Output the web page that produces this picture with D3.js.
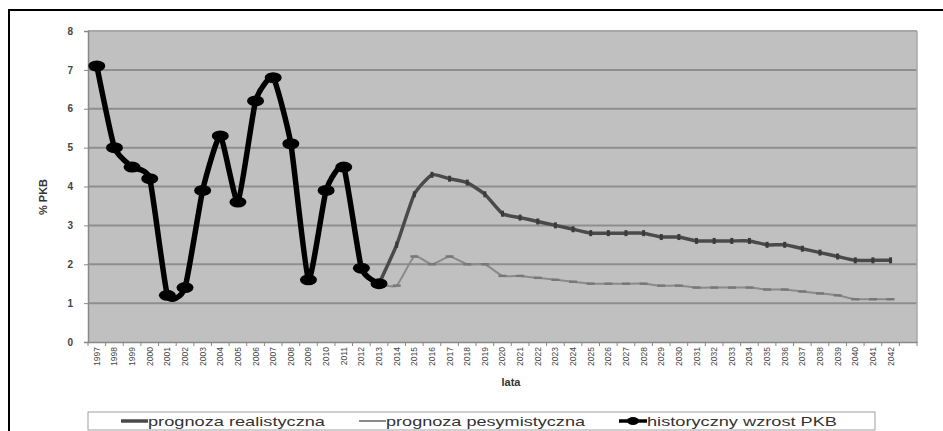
<!DOCTYPE html>
<html>
<head>
<meta charset="utf-8">
<script src="https://cdn.jsdelivr.net/npm/d3@7"></script>
<style>
  html, body { margin: 0; padding: 0; background: #fff; }
  svg { display: block; font-family: "Liberation Sans", Arial, sans-serif; }
</style>
</head>
<body>
<svg id="chart" width="943" height="431"></svg>
<script>
// Category labels along the x axis
const years = ["1997","1998","1999","2000","2001","2002","2003","2004","2005","2006",
  "2007","2008","2009","2010","2011","2012","2013","2014","2015","2016","2017","2018",
  "2019","2020","2021","2022","2023","2024","2025","2026","2027","2028","2029","2030",
  "2031","2032","2033","2034","2035","2036","2037","2038","2039","2040","2041","2042"];

// Historical GDP growth, 1997–2013
const historicalYears = ["1997","1998","1999","2000","2001","2002","2003","2004","2005",
  "2006","2007","2008","2009","2010","2011","2012","2013"];
const historical = [7.1, 5.0, 4.5, 4.2, 1.2, 1.4, 3.9, 5.3, 3.6, 6.2, 6.8, 5.1, 1.6, 3.9, 4.5, 1.9, 1.5];

// Forecasts, 2013–2042
const forecastYears = ["2013","2014","2015","2016","2017","2018","2019","2020","2021",
  "2022","2023","2024","2025","2026","2027","2028","2029","2030","2031","2032","2033",
  "2034","2035","2036","2037","2038","2039","2040","2041","2042"];
const realistic = [1.5, 2.5, 3.8, 4.3, 4.2, 4.1, 3.8, 3.3, 3.2, 3.1, 3.0, 2.9, 2.8, 2.8, 2.8,
  2.8, 2.7, 2.7, 2.6, 2.6, 2.6, 2.6, 2.5, 2.5, 2.4, 2.3, 2.2, 2.1, 2.1, 2.1];
const pessimistic = [1.5, 1.45, 2.2, 2.0, 2.2, 2.0, 2.0, 1.7, 1.7, 1.65, 1.6, 1.55, 1.5, 1.5, 1.5,
  1.5, 1.45, 1.45, 1.4, 1.4, 1.4, 1.4, 1.35, 1.35, 1.3, 1.25, 1.2, 1.1, 1.1, 1.1];

const yTicks = [0, 1, 2, 3, 4, 5, 6, 7, 8];
const seriesNames = ["prognoza realistyczna", "prognoza pesymistyczna", "historyczny wzrost PKB"];
const yTitle = "% PKB";
const xTitle = "lata";

const svg = d3.select("#chart");

// Outer frame
svg.append("path")
  .attr("d", "M9,431 V10 H943")
  .attr("fill", "none").attr("stroke", "#000").attr("stroke-width", 2);

const plot = { left: 88, right: 917, top: 31, bottom: 342 };

// One spare empty slot after the last year
const slots = years.concat([""]);
const x = d3.scaleBand().domain(slots).range([plot.left, plot.right]).padding(0);
const cx = d => x(d) + x.bandwidth() / 2;
const y = d3.scaleLinear().domain([0, 8]).range([plot.bottom, plot.top]);

// Plot background
svg.append("rect")
  .attr("x", plot.left).attr("y", plot.top)
  .attr("width", plot.right - plot.left).attr("height", plot.bottom - plot.top)
  .attr("fill", "#c0c0c0");

// Horizontal gridlines
svg.append("g").selectAll("line")
  .data(yTicks.filter(v => v > 0))
  .join("line")
  .attr("x1", plot.left).attr("x2", plot.right)
  .attr("y1", d => y(d)).attr("y2", d => y(d))
  .attr("stroke", d => d === 8 ? "#a8a8a8" : "#8e8e8e")
  .attr("stroke-width", 2);

// Right edge of plot area
svg.append("line")
  .attr("x1", plot.right).attr("x2", plot.right)
  .attr("y1", plot.top).attr("y2", plot.bottom)
  .attr("stroke", "#a8a8a8").attr("stroke-width", 1.5);

// Y axis
const yAxis = svg.append("g")
  .attr("transform", `translate(${plot.left},0)`)
  .call(d3.axisLeft(y).tickValues(yTicks).tickSize(4).tickPadding(11).tickFormat(d3.format("d")));
yAxis.select(".domain").attr("stroke", "#888").attr("stroke-width", 1.5);
yAxis.selectAll(".tick line").attr("stroke", "#888");
yAxis.selectAll(".tick text")
  .attr("fill", "#444").attr("font-size", 10).attr("font-weight", "bold")
  .attr("font-family", "Liberation Sans, Arial, sans-serif");

// X axis: ticks at category boundaries, labels rotated
const xAxis = svg.append("g")
  .attr("transform", `translate(0,${plot.bottom})`)
  .call(d3.axisBottom(x).tickSize(0).tickPadding(0));
xAxis.select(".domain").attr("stroke", "#888").attr("stroke-width", 1.5);
xAxis.selectAll(".tick text")
  .attr("transform", "rotate(-90)")
  .attr("x", -5).attr("y", 0).attr("dy", "0.35em")
  .attr("text-anchor", "end")
  .attr("fill", "#444").attr("font-size", 8.5)
  .attr("font-family", "Liberation Sans, Arial, sans-serif");
svg.append("g").selectAll("line")
  .data(slots.map(s => x(s)).concat([plot.right]))
  .join("line")
  .attr("x1", d => d).attr("x2", d => d)
  .attr("y1", plot.bottom).attr("y2", plot.bottom + 4)
  .attr("stroke", "#888");

// Axis titles
svg.append("text")
  .attr("transform", `translate(47,197) rotate(-90)`)
  .attr("text-anchor", "middle")
  .attr("font-size", 11).attr("font-weight", "bold").attr("fill", "#333")
  .text(yTitle);
svg.append("text")
  .attr("x", 511).attr("y", 386)
  .attr("text-anchor", "middle")
  .attr("font-size", 11).attr("font-weight", "bold").attr("fill", "#333")
  .text(xTitle);

// Smoothed lines
const line = d3.line().x(d => cx(d.year)).y(d => y(d.value)).curve(d3.curveCardinal.tension(0.5));
const zip = (ks, vs) => ks.map((k, i) => ({ year: k, value: vs[i] }));

const pessData = zip(forecastYears, pessimistic);
const realData = zip(forecastYears, realistic);
const histData = zip(historicalYears, historical);

// Pessimistic forecast
svg.append("path").datum(pessData)
  .attr("d", line).attr("fill", "none")
  .attr("stroke", "#8a8a8a").attr("stroke-width", 2);
svg.append("g").selectAll("rect").data(pessData.slice(1))
  .join("rect")
  .attr("x", d => cx(d.year) - 4).attr("y", d => y(d.value) - 1.2)
  .attr("width", 8).attr("height", 2.4)
  .attr("fill", "#777");

// Realistic forecast
svg.append("path").datum(realData)
  .attr("d", line).attr("fill", "none")
  .attr("stroke", "#4a4a4a").attr("stroke-width", 3.5);
svg.append("g").selectAll("rect").data(realData.slice(1))
  .join("rect")
  .attr("x", d => cx(d.year) - 1.5).attr("y", d => y(d.value) - 3)
  .attr("width", 3).attr("height", 6)
  .attr("fill", "#3a3a3a");

// Historical growth
svg.append("path").datum(histData)
  .attr("d", line).attr("fill", "none")
  .attr("stroke", "#000").attr("stroke-width", 5.5);
svg.append("g").selectAll("ellipse").data(histData)
  .join("ellipse")
  .attr("cx", d => cx(d.year)).attr("cy", d => y(d.value))
  .attr("rx", 8.5).attr("ry", 5.5)
  .attr("fill", "#000");

// Legend
const legend = svg.append("g");
legend.append("rect")
  .attr("x", 88).attr("y", 412).attr("width", 787).attr("height", 18)
  .attr("fill", "#fff").attr("stroke", "#a0a0a0").attr("stroke-width", 1);

const legendItems = [
  { name: seriesNames[0], x0: 121, x1: 148, tx: 148, tw: 177 },
  { name: seriesNames[1], x0: 359, x1: 386, tx: 386, tw: 199 },
  { name: seriesNames[2], x0: 619, x1: 647, tx: 647, tw: 190 }
];
const ly = 421;
// realistic symbol
legend.append("line")
  .attr("x1", legendItems[0].x0).attr("x2", legendItems[0].x1)
  .attr("y1", ly).attr("y2", ly)
  .attr("stroke", "#4a4a4a").attr("stroke-width", 3.5);
// pessimistic symbol
legend.append("line")
  .attr("x1", legendItems[1].x0).attr("x2", legendItems[1].x1)
  .attr("y1", ly).attr("y2", ly)
  .attr("stroke", "#8a8a8a").attr("stroke-width", 2);
// historical symbol
legend.append("line")
  .attr("x1", legendItems[2].x0).attr("x2", legendItems[2].x1)
  .attr("y1", ly).attr("y2", ly)
  .attr("stroke", "#000").attr("stroke-width", 3.5);
legend.append("ellipse")
  .attr("cx", (legendItems[2].x0 + legendItems[2].x1) / 2).attr("cy", ly)
  .attr("rx", 6).attr("ry", 4).attr("fill", "#000");

legend.selectAll("text.lg").data(legendItems)
  .join("text").attr("class", "lg")
  .attr("x", d => d.tx).attr("y", ly + 4.5)
  .attr("textLength", d => d.tw).attr("lengthAdjust", "spacingAndGlyphs")
  .attr("font-size", 13).attr("fill", "#333")
  .text(d => d.name);
</script>
</body>
</html>
